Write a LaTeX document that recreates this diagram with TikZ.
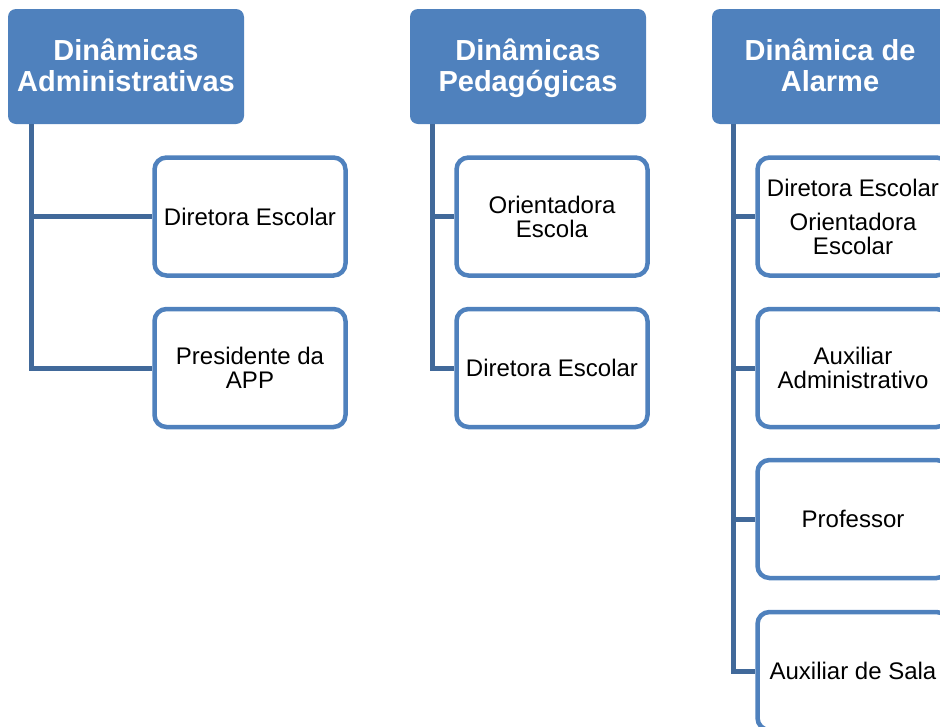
\documentclass[tikz,border=0pt]{standalone}
\usepackage{fontspec}
\setmainfont{Liberation Sans}
\definecolor{hdrblue}{HTML}{4F81BD}
\definecolor{lineblue}{HTML}{41699A}
\newcommand{\hdtop}{\rule{0pt}{28pt}}
\tikzset{
  header/.style={fill=hdrblue,rounded corners=8pt,text=white,font=\fontsize{29}{31}\selectfont\bfseries,
    minimum width=236pt,minimum height=115pt,align=center,inner sep=0pt},
  member/.style={draw=hdrblue,line width=4.5pt,fill=white,rounded corners=12pt,
    font=\fontsize{24}{24}\selectfont,minimum width=191pt,minimum height=118pt,align=center,inner sep=0pt},
  conn/.style={draw=lineblue,line width=5pt}
}

\begin{document}
\begin{tikzpicture}[x=1pt,y=-1pt]
\clip (0,0) rectangle (940,726);

% column 1
\node[header] (hA) at (126,66.5) {\hdtop Dinâmicas\\Administrativas\strut};
\node[member] (a1) at (250,216.5) {Diretora Escolar};
\node[member] (a2) at (250,368) {Presidente da\\APP};
\draw[conn] ([xshift=24pt]hA.south west) |- (a1.west);
\draw[conn] ([xshift=24pt]hA.south west) |- (a2.west);

% column 2
\node[header] (hB) at (528,66.5) {\hdtop Dinâmicas\\Pedagógicas\strut};
\node[member] (b1) at (552,216.5) {Orientadora\\Escola};
\node[member] (b2) at (552,368) {Diretora Escolar};
\draw[conn] ([xshift=23pt]hB.south west) |- (b1.west);
\draw[conn] ([xshift=23pt]hB.south west) |- (b2.west);

% column 3
\node[header] (hC) at (830,66.5) {\hdtop Dinâmica de\\Alarme\strut};
\node[member] (c1) at (853,216.5) {Diretora Escolar\\[10pt]Orientadora\\Escolar};
\node[member] (c2) at (853,368) {Auxiliar\\Administrativo};
\node[member] (c3) at (853,519) {Professor};
\node[member] (c4) at (853,671) {Auxiliar de Sala};
\foreach \c in {c1,c2,c3,c4}
  \draw[conn] ([xshift=22pt]hC.south west) |- (\c.west);
\end{tikzpicture}
\end{document}
